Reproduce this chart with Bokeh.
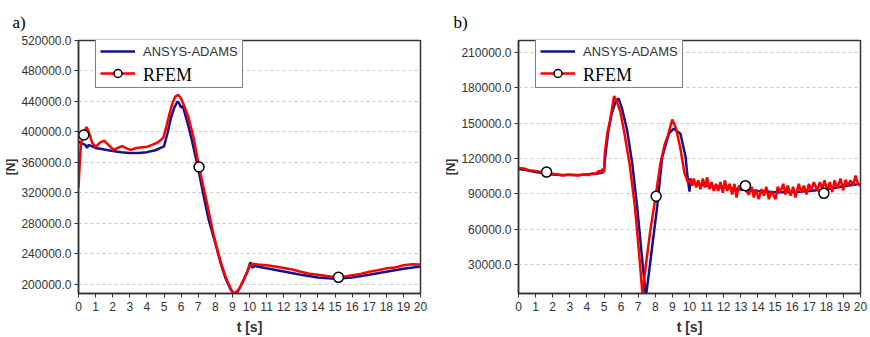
from bokeh.plotting import figure
from bokeh.layouts import row
from bokeh.models import Range1d, FixedTicker, PrintfTickFormatter, Legend, LegendItem
from bokeh.embed import file_html
from bokeh.resources import INLINE

# ---------------- panel a) ----------------
a_t_ansys = [0, 0.2, 0.4, 0.5, 0.6, 0.8, 1.0, 1.5, 2.0, 2.5, 3.0, 3.5, 4.0, 4.5, 4.8,
             5.0, 5.2, 5.4, 5.6, 5.8, 5.9, 6.0, 6.1, 6.2, 6.4, 6.6, 6.8, 7.0, 7.3,
             7.6, 8.0, 8.3, 8.6, 8.9, 9.1, 9.3, 9.6, 9.9, 10.05, 10.15, 10.3, 11, 12,
             13, 14, 15, 16, 17, 18, 19, 20]
a_f_ansys = [387000, 385000, 383000, 379000, 383000, 381000, 379000, 377000, 375000,
             373500, 372500, 372500, 373500, 376000, 379000, 381000, 398000, 418000,
             432000, 440000, 437000, 432000, 434000, 426000, 410000, 392000, 372000,
             352000, 318000, 286000, 254000, 229000, 208000, 193000, 188000, 190000,
             203000, 218000, 229000, 222000, 224000, 221000, 217000, 212500, 209000,
             207500, 209000, 212500, 216500, 220500, 223500]

a_t_rfem = [0, 0.08, 0.15, 0.3, 0.47, 0.6, 0.8, 1.0, 1.25, 1.5, 1.75, 2.05, 2.3, 2.55,
            2.8, 3.05, 3.4, 3.75, 4.0, 4.3, 4.6, 4.8, 4.97, 5.15, 5.3, 5.5, 5.65, 5.83,
            6.0, 6.2, 6.45, 6.75, 7.05, 7.5, 7.9, 8.3, 8.7, 9.0, 9.15, 9.4, 9.7, 10.0,
            10.2, 10.5, 11, 11.5, 12, 12.5, 13, 13.5, 14, 14.5, 15, 15.5, 16, 16.5, 17,
            17.5, 18, 18.5, 19, 19.5, 20]
a_f_rfem = [327000, 362000, 385000, 398000, 406500, 400000, 386000, 380000, 386000,
            388500, 383000, 376500, 379000, 381500, 378500, 376500, 379000, 380000,
            380500, 383000, 386000, 389000, 393000, 408000, 422000, 438000, 446000,
            448800, 444000, 433000, 418000, 390000, 354000, 308000, 265000, 230000,
            204000, 190000, 188500, 194000, 208000, 224000, 227000, 226000, 225000,
            223500, 221500, 219500, 216500, 214000, 212500, 211000, 209500, 210000,
            212000, 213500, 216500, 218500, 221000, 222000, 225000, 226500, 226000]

a_t_mark = [0.31, 7.05, 15.2]
a_f_mark = [396000, 354000, 209200]

a_y_ticks = [200000, 240000, 280000, 320000, 360000, 400000, 440000, 480000, 520000]
a_y_limits = (188000, 520000)

# ---------------- panel b) ----------------
b_t_ansys = [0, 0.5, 1.0, 1.5, 2.0, 2.5, 3.0, 3.5, 4.0, 4.5, 4.9, 5.0, 5.1, 5.25, 5.45,
             5.65, 5.85, 6.06, 6.35, 6.65, 6.94, 7.23, 7.45, 7.62, 7.82, 8.11, 8.4,
             8.79, 9.08, 9.47, 9.77, 9.86, 10.0, 10.05, 10.2, 11, 12, 13, 14, 15, 16,
             17, 18, 19, 20]
b_f_ansys = [111000, 110000, 108500, 107500, 106500, 106000, 106000, 106000, 106500,
             107000, 108000, 110000, 125000, 143000, 158000, 167000, 171000, 162000,
             144000, 116000, 79000, 35000, 3000, 22000, 45600, 79000, 121000, 141000,
             145300, 141000, 121400, 107700, 92000, 103000, 99000, 97000, 95500, 93700,
             92500, 91500, 91500, 92500, 94000, 96500, 98500]

b_t_rfem = [0, 0.3, 0.6, 1.0, 1.3, 1.64, 2.0, 2.3, 2.6, 2.9, 3.2, 3.5, 3.8, 4.1, 4.3,
            4.5, 4.7, 4.8, 4.9, 5.0, 5.05, 5.2, 5.35, 5.59, 5.75, 5.95, 6.2, 6.5, 6.8,
            7.05, 7.25, 7.45, 7.7, 8.02, 8.3, 8.55, 8.75, 8.99, 9.2, 9.45, 9.7, 9.9,
            10.06, 10.16, 10.25, 10.39, 10.51, 10.64, 10.78, 10.90, 11.03, 11.17, 11.29,
            11.42, 11.56, 11.68, 11.81, 11.95, 12.07, 12.20, 12.34, 12.50, 12.63, 12.75,
            12.89, 13.04, 13.18, 13.32, 13.47, 13.63, 13.76, 13.90, 14.05, 14.21, 14.35,
            14.49, 14.64, 14.79, 14.93, 15.03, 15.16, 15.32, 15.48, 15.61, 15.75, 15.91,
            16.06, 16.20, 16.39, 16.53, 16.69, 16.84, 16.98, 17.11, 17.27, 17.47, 17.62,
            17.76, 17.90, 18.05, 18.21, 18.35, 18.48, 18.64, 18.83, 18.99, 19.12, 19.26,
            19.42, 19.57, 19.71, 19.84, 19.96, 20]
b_f_rfem = [112000, 111500, 110000, 109500, 108500, 108500, 107000, 106500, 105500,
            106500, 106000, 105500, 106500, 106000, 107500, 107000, 109500, 108000,
            111000, 108500, 125000, 142000, 152000, 173000, 168000, 160000, 141000,
            115000, 80000, 40000, 5000, 30000, 58000, 88000, 116000, 132000, 140000,
            153000, 146000, 130000, 108000, 100000,
            101500, 97000, 103000, 95500, 101500, 94000, 103000, 95500, 104000, 94000,
            100000, 92500, 98500, 92500, 100000, 91000, 101500, 92500, 98500, 89500,
            98500, 87000, 97000, 95000, 100000, 92500, 89500, 96000, 87000, 93600,
            85500, 94000, 88500, 96000, 85500, 92200, 88500, 85500, 96000, 91500,
            98500, 89500, 97000, 88500, 96000, 87000, 98500, 91500, 97000, 89500,
            98500, 93000, 100000, 93000, 100000, 94500, 101500, 93000, 100000, 91500,
            101500, 94500, 103000, 93000, 102000, 97000, 101500, 97000, 105500,
            99200, 97200, 97000]

b_t_mark = [1.64, 8.05, 13.27, 17.86]
b_f_mark = [108500, 88000, 97000, 90500]

b_y_ticks = [30000, 60000, 90000, 120000, 150000, 180000, 210000]
b_y_limits = (5600, 220000)

t_ticks = list(range(0, 21))

BLUE = "#12128c"
RED = "#ff0000"
INK = "#333333"


def make_panel(tag, y_limits, y_ticks, t_ans, f_ans, t_rf, f_rf, t_mk, f_mk,
               border_left, border_right, tag_x):
    p = figure(width=435, height=337, output_backend="svg", toolbar_location=None,
               x_range=Range1d(0, 20), y_range=Range1d(*y_limits),
               min_border_left=border_left, min_border_right=border_right,
               min_border_top=40, min_border_bottom=42,
               background_fill_color="white", border_fill_color="white")

    p.title.text = tag
    p.title.text_font = "Liberation Serif"
    p.title.text_font_size = "17px"
    p.title.text_font_style = "normal"
    p.title.text_color = "black"
    p.title.align = "left"
    p.title.offset = -(border_left - tag_x)
    p.title.standoff = 18

    p.outline_line_color = INK
    p.outline_line_width = 1.5

    for ax in (p.xaxis[0], p.yaxis[0]):
        ax.axis_line_color = INK
        ax.axis_line_width = 1.5
        ax.major_tick_line_color = INK
        ax.major_tick_in = 0
        ax.major_tick_out = 4
        ax.minor_tick_line_color = None
        ax.major_label_text_font = "Liberation Sans"
        ax.major_label_text_font_size = "12px"
        ax.major_label_text_color = INK
        ax.major_label_standoff = 4
        ax.axis_label_text_font = "Liberation Sans"
        ax.axis_label_text_font_style = "bold"
        ax.axis_label_text_color = INK

    p.xaxis.ticker = FixedTicker(ticks=t_ticks)
    p.xaxis.axis_label = "t [s]"
    p.xaxis.axis_label_text_font_size = "14px"
    p.xaxis.axis_label_standoff = 5

    p.yaxis.ticker = FixedTicker(ticks=y_ticks)
    p.yaxis.formatter = PrintfTickFormatter(format="%.1f")
    p.yaxis.axis_label = "[N]"
    p.yaxis.axis_label_text_font_size = "12px"
    p.yaxis.axis_label_standoff = 0
    p.yaxis.major_label_standoff = 3

    p.xgrid.visible = False
    p.ygrid.grid_line_color = "#c8c8c8"
    p.ygrid.grid_line_dash = "3 3"
    p.ygrid.grid_line_width = 1

    r_ans = p.line(t_ans, f_ans, line_color=BLUE, line_width=2.5)
    r_rf = p.line(t_rf, f_rf, line_color=RED, line_width=2.5)
    r_mk = p.scatter(t_mk, f_mk, marker="circle", size=10, fill_color="white",
                     line_color="black", line_width=1.5)
    r_blank = p.line(x=[], y=[], line_alpha=0)

    legend_box = Legend(
        items=[LegendItem(label="ANSYS-ADAMS", renderers=[r_ans]),
               LegendItem(label=" ", renderers=[r_rf, r_mk])],
        location=(17, 205),
        padding=4, spacing=2, margin=0,
        glyph_width=35, glyph_height=20, label_height=20, label_standoff=8,
        label_text_font="Liberation Sans", label_text_font_size="13px",
        label_text_color=INK,
        border_line_color="black", border_line_width=1.5,
        background_fill_color="white", background_fill_alpha=1.0,
    )
    legend_text = Legend(
        items=[LegendItem(label="RFEM", renderers=[r_blank])],
        location=(22, 206),
        padding=0, spacing=0, margin=0,
        glyph_width=35, glyph_height=24, label_height=24, label_standoff=8,
        label_text_font="Liberation Serif", label_text_font_size="18px",
        label_text_color="black",
        border_line_alpha=0, background_fill_alpha=0,
    )
    p.add_layout(legend_box)
    p.add_layout(legend_text)
    return p


p_a = make_panel("a)", a_y_limits, a_y_ticks, a_t_ansys, a_f_ansys, a_t_rfem, a_f_rfem,
                 a_t_mark, a_f_mark, 78, 15, 12)
p_b = make_panel("b)", b_y_limits, b_y_ticks, b_t_ansys, b_f_ansys, b_t_rfem, b_f_rfem,
                 b_t_mark, b_f_mark, 83, 10, 18)

page = row(p_a, p_b)
open("out.html", "w").write(file_html(page, INLINE))
